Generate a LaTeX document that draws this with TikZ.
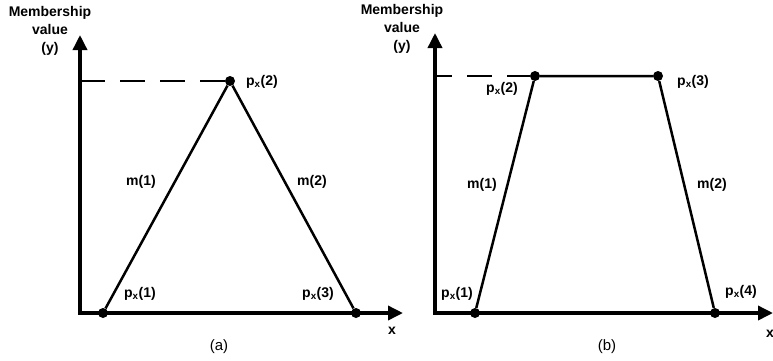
\documentclass[tikz,border=0pt]{standalone}
\usepackage{fontspec}
\setmainfont{Liberation Sans}
\usetikzlibrary{arrows.meta}
\begin{document}
\begin{tikzpicture}[x=1pt,y=-1pt,
  axis/.style={line width=3.5pt,{Triangle[length=15pt,width=14pt]}-{Triangle[length=15pt,width=14pt]}},
  edge/.style={line width=2.5pt},
  guide/.style={line width=2.8pt,dash pattern=on 25pt off 15pt},
  dot/.style={circle,fill,inner sep=0pt,minimum size=10pt},
  lbl/.style={font=\bfseries\fontsize{14}{18}\selectfont},
  panel/.style={font=\fontsize{15}{18}\selectfont}]
\useasboundingbox (0,0) rectangle (773,360);

% (a) triangle
\coordinate (ya) at (80,35);
\coordinate (oa) at (80,313);
\coordinate (xa) at (403,313);
\coordinate (ha) at (80,81);
\node[dot] (a1) at (103,313) {};
\node[dot] (a2) at (230,81) {};
\node[dot] (a3) at (356,313) {};

\draw[axis] (ya) -- (oa) -- (xa);
\draw[guide] (ha) -- (a2);
\draw[edge] (a1) -- (a2) -- (a3);

\node[lbl,align=center] (ylaba) at (50,31) {Membership\\value\\(y)};
\node[lbl] (xlaba) at (392,331) {x};
\node[lbl] (pa1) at (140,294) {p\textsubscript{x}(1)};
\node[lbl] (pa2) at (262,82) {p\textsubscript{x}(2)};
\node[lbl] (pa3) at (318,294) {p\textsubscript{x}(3)};
\node[lbl] (ma1) at (141,182) {m(1)};
\node[lbl] (ma2) at (312,182) {m(2)};
\node[panel] (capa) at (219,347) {(a)};

% (b) trapezoid
\coordinate (yb) at (435,33);
\coordinate (ob) at (435,313);
\coordinate (xb) at (773,313);
\coordinate (hb) at (435,76);
\node[dot] (b1) at (475,313) {};
\node[dot] (b2) at (535,76) {};
\node[dot] (b3) at (658,76) {};
\node[dot] (b4) at (715,313) {};

\draw[axis] (yb) -- (ob) -- (xb);
\draw[guide,dash phase=8pt] (hb) -- (b2);
\draw[edge] (b1) -- (b2) -- (b3) -- (b4);

\node[lbl,align=center] (ylabb) at (402,29) {Membership\\value\\(y)};
\node[lbl] (xlabb) at (770,334) {x};
\node[lbl] (pb1) at (457,294) {p\textsubscript{x}(1)};
\node[lbl] (pb2) at (502,89) {p\textsubscript{x}(2)};
\node[lbl] (pb3) at (693,82) {p\textsubscript{x}(3)};
\node[lbl] (pb4) at (741,292) {p\textsubscript{x}(4)};
\node[lbl] (mb1) at (482,185) {m(1)};
\node[lbl] (mb2) at (712,185) {m(2)};
\node[panel] (capb) at (607,347) {(b)};
\end{tikzpicture}
\end{document}
